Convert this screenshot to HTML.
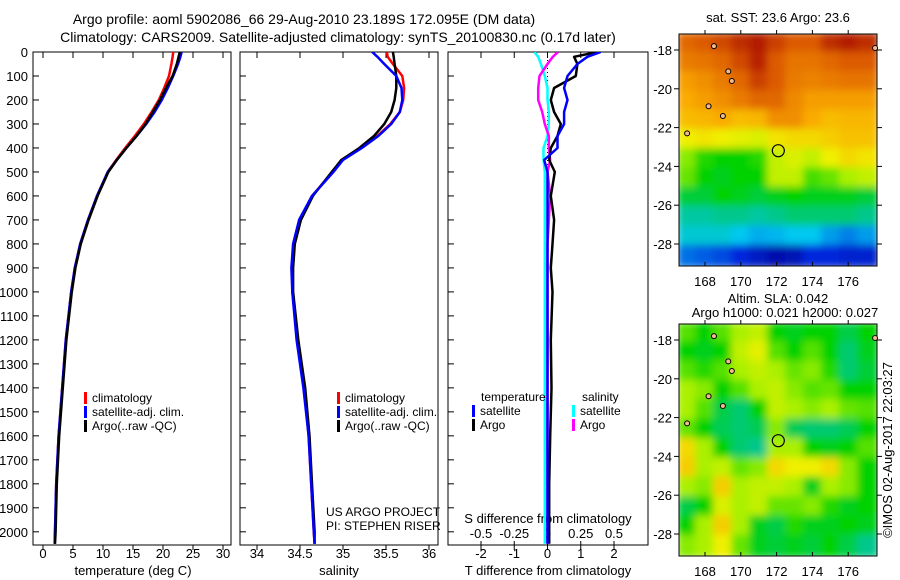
<!DOCTYPE html>
<html><head><meta charset="utf-8"><style>
body{margin:0;background:#fff;}
svg{display:block;font-family:"Liberation Sans",sans-serif;}
</style></head><body>
<svg id="c" width="900" height="580" xmlns="http://www.w3.org/2000/svg">
<defs>
<clipPath id="cp1"><rect x="33" y="52" width="198" height="493"/></clipPath>
<clipPath id="cp2"><rect x="240" y="52" width="198" height="493"/></clipPath>
<clipPath id="cp3"><rect x="448" y="52" width="200" height="493"/></clipPath>
<clipPath id="cm1"><rect x="679" y="34" width="198" height="232"/></clipPath>
<clipPath id="cm2"><rect x="679" y="324" width="198" height="232"/></clipPath>
<filter id="bl" x="-5%" y="-5%" width="110%" height="110%"><feGaussianBlur stdDeviation="4"/></filter>
</defs>
<text x="304" y="24" font-size="14" text-anchor="middle">Argo profile: aoml 5902086_66 29-Aug-2010 23.189S 172.095E (DM data)</text>
<text x="338" y="42" font-size="14" text-anchor="middle">Climatology: CARS2009. Satellite-adjusted climatology: synTS_20100830.nc (0.17d later)</text>
<g id="g"></g>
</svg>
<script>
// ---- data ----
const depths=[0,20,50,100,150,200,250,300,350,400,450,500,600,700,800,900,1000,1200,1400,1600,1800,2000,2050];
const tempClim=[21.7,21.6,21.4,21.0,20.2,19.3,18.1,16.8,15.3,13.7,12.2,10.8,9.0,7.5,6.2,5.3,4.7,3.8,3.2,2.6,2.2,2.0,1.95];
const tempSat=[23.1,22.9,22.5,21.7,20.8,19.8,18.6,17.2,15.6,13.9,12.3,10.8,9.0,7.5,6.2,5.3,4.7,3.8,3.2,2.6,2.2,2.0,1.95];
const tempArgo=[22.8,22.6,22.3,21.6,20.5,19.5,18.3,17.1,15.6,13.9,12.3,10.9,9.1,7.6,6.3,5.4,4.8,3.9,3.3,2.7,2.3,2.1,2.0];
const salClim=[35.51,35.52,35.58,35.69,35.71,35.70,35.66,35.55,35.40,35.21,34.98,34.88,34.64,34.50,34.43,34.41,34.41,34.47,34.55,34.60,34.63,34.66,34.67];
const salSat=[35.34,35.40,35.48,35.62,35.68,35.69,35.66,35.56,35.41,35.22,35.0,34.89,34.64,34.49,34.42,34.40,34.41,34.46,34.54,34.60,34.63,34.66,34.67];
const salArgo=[35.58,35.59,35.60,35.62,35.62,35.60,35.56,35.48,35.36,35.19,34.98,34.87,34.65,34.51,34.44,34.42,34.42,34.48,34.56,34.61,34.64,34.67,34.67];
const dTsat=[1.6,1.2,0.9,0.6,0.5,0.6,0.5,0.5,0.3,0.3,-0.1,0,0,0,0,0,0,0,0,0,0,0,0];
const dTargo=[1.5,0.8,0.9,0.85,0.2,0.1,0.2,0.4,0.3,0.1,0.05,0.22,0.1,0.2,0.15,0.1,0.15,0.1,0.12,0.08,0.05,0.05,0.05];
const dSsat=[-0.1,-0.07,-0.05,-0.02,0,0,0.01,0.01,0,-0.03,-0.03,-0.02,-0.02,-0.02,-0.02,-0.02,-0.02,-0.02,-0.02,-0.02,-0.02,-0.02,-0.02];
const dSargo=[0.08,0.04,0,-0.06,-0.07,-0.07,-0.04,-0.02,0.01,0.01,0.02,0,0.02,0.01,0,0,0,0,0,0,0,0,0];
const depthTicks=[0,100,200,300,400,500,600,700,800,900,1000,1100,1200,1300,1400,1500,1600,1700,1800,1900,2000];
const tempTicks=[0,5,10,15,20,25,30];
const salTicks=[34,34.5,35,35.5,36];
const tdTicks=[-2,-1,0,1,2];
const sdTicks=[-0.5,-0.25,0,0.25,0.5];
const lonTicks=[168,170,172,174,176];
const latTicks=[-18,-20,-22,-24,-26,-28];
const sstGrid=[
[.88,.9,.92,.95,.97,.93,.9,.9,.95,.97,.95],
[.85,.86,.88,.92,.96,.9,.86,.86,.88,.9,.9],
[.8,.82,.85,.88,.93,.9,.85,.84,.85,.86,.86],
[.78,.8,.82,.85,.88,.88,.83,.8,.8,.8,.8],
[.75,.76,.78,.75,.76,.82,.82,.78,.75,.76,.76],
[.66,.68,.66,.65,.64,.68,.7,.7,.72,.74,.74],
[.58,.52,.5,.5,.52,.62,.64,.62,.66,.7,.68],
[.56,.5,.48,.5,.5,.62,.62,.54,.56,.6,.62],
[.46,.46,.5,.48,.46,.48,.5,.48,.48,.48,.46],
[.38,.38,.4,.4,.38,.4,.42,.42,.42,.42,.4],
[.33,.33,.33,.3,.27,.28,.3,.3,.25,.22,.25],
[.2,.18,.16,.12,.08,.05,.06,.12,.12,.1,.1]];
const slaGrid=[
[.55,.5,.55,.6,.62,.5,.48,.5,.5,.45,.5],
[.5,.48,.5,.62,.65,.55,.5,.55,.5,.42,.48],
[.55,.52,.55,.6,.62,.6,.56,.58,.52,.42,.46],
[.6,.58,.5,.55,.6,.62,.58,.55,.56,.5,.5],
[.6,.55,.45,.42,.5,.62,.6,.58,.6,.56,.55],
[.56,.5,.44,.42,.44,.58,.44,.42,.42,.44,.5],
[.7,.6,.5,.42,.4,.6,.6,.5,.48,.5,.55],
[.72,.6,.62,.56,.58,.7,.66,.66,.7,.58,.5],
[.6,.58,.72,.6,.62,.62,.6,.48,.6,.58,.5],
[.45,.5,.64,.6,.62,.56,.56,.58,.52,.48,.5],
[.5,.6,.72,.6,.48,.45,.52,.48,.48,.5,.48],
[.58,.6,.66,.56,.48,.46,.48,.46,.5,.45,.4]];
// ---- drawing ----
const NS='http://www.w3.org/2000/svg';const G=document.getElementById('g');
function mk(t,a,p){const e=document.createElementNS(NS,t);for(const k in a)e.setAttribute(k,a[k]);(p||G).appendChild(e);return e;}
const yD=d=>52+d*0.2399;
const xT=t=>43+t*6;
const xS=s=>257+(s-34)*86;
const xTd=t=>547.5+t*33.25;
const xSd=s=>547.5+s*133;
function frame(x,w,name){const r=mk('rect',{x:x,y:52,width:w,height:493,fill:'none',stroke:'#000','stroke-width':1});}
frame(33,198,'temperature-panel');frame(240,198,'salinity-panel');frame(448,200,'difference-panel');
depthTicks.forEach(d=>{const y=yD(d);
 const t=mk('text',{x:28,y:y+5,'font-size':13,'text-anchor':'end'});t.textContent=d;
 
 mk('line',{x1:33,x2:39,y1:y,y2:y,stroke:'#000'});mk('line',{x1:240,x2:246,y1:y,y2:y,stroke:'#000'});mk('line',{x1:448,x2:454,y1:y,y2:y,stroke:'#000'});});
function xticks(ticks,fx,y0,labelY,fmt,name){ticks.forEach(v=>{const x=fx(v);
 mk('line',{x1:x,x2:x,y1:545,y2:550,stroke:'#000'});mk('line',{x1:x,x2:x,y1:52,y2:58,stroke:'#000'});
 const t=mk('text',{x:x,y:labelY,'font-size':13,'text-anchor':'middle'});t.textContent=fmt(v);
 });}
xticks(tempTicks,xT,0,558,v=>v,'temperature-tick-label');
xticks(salTicks,xS,0,558,v=>v,'salinity-tick-label');
xticks(tdTicks,xTd,0,558,v=>v,'t-diff-tick-label');
sdTicks.forEach(v=>{const x=xSd(v);mk('line',{x1:x,x2:x,y1:541,y2:545,stroke:'#000'});
 const t=mk('text',{x:x,y:538,'font-size':13,'text-anchor':'middle'});t.textContent=v;
 });
function lab(x,y,s,name,anchor,size){const t=mk('text',{x:x,y:y,'font-size':size||13,'text-anchor':anchor||'middle'});t.textContent=s;return t;}
lab(133,575,'temperature (deg C)','x-axis-title-temperature');
lab(339,575,'salinity','x-axis-title-salinity');
lab(548,575,'T difference from climatology','x-axis-title-t-diff');
lab(548,523,'S difference from climatology','s-diff-axis-title');
lab(326,516,'US ARGO PROJECT','project-label','start',12);
lab(326,530,'PI: STEPHEN RISER','pi-label','start',12);
mk('line',{x1:547.5,x2:547.5,y1:52,y2:545,stroke:'#000','stroke-dasharray':'1,3'});
function line(xs,fx,col,clip,name){const pts=depths.map((d,i)=>fx(xs[i]).toFixed(1)+','+yD(d).toFixed(1)).join(' ');
 const p=mk('polyline',{points:pts,fill:'none',stroke:col,'stroke-width':2.5,'clip-path':'url(#'+clip+')','stroke-linejoin':'round'});
 }
line(tempClim,xT,'#f00','cp1','temp-climatology-line');line(tempSat,xT,'#00f','cp1','temp-satellite-line');line(tempArgo,xT,'#000','cp1','temp-argo-line');
line(salClim,xS,'#f00','cp2','sal-climatology-line');line(salArgo,xS,'#000','cp2','sal-argo-line');line(salSat,xS,'#00f','cp2','sal-satellite-line');
line(dSsat,xSd,'#0ff','cp3','s-diff-satellite-line');line(dSargo,xSd,'#f0f','cp3','s-diff-argo-line');
line(dTargo,xTd,'#000','cp3','t-diff-argo-line');line(dTsat,xTd,'#00f','cp3','t-diff-satellite-line');
function legend(x,y,items,name){items.forEach((it,i)=>{const r=mk('rect',{x:x,y:y+i*14-10,width:3,height:12,fill:it[1]});
 
 lab(x+8,y+i*14,it[0],name+'-entry','start',12);});}
legend(84,402,[['climatology','#f00'],['satellite-adj. clim.','#00f'],['Argo(..raw -QC)','#000']],'temp-legend');
legend(337,402,[['climatology','#f00'],['satellite-adj. clim.','#00f'],['Argo(..raw -QC)','#000']],'sal-legend');
lab(481,401,'temperature','diff-legend-temp-header','start',12);
lab(582,401,'salinity','diff-legend-sal-header','start',12);
legend(472,415,[['satellite','#00f'],['Argo','#000']],'diff-legend-temp');
legend(572,415,[['satellite','#0ff'],['Argo','#f0f']],'diff-legend-sal');
// maps
function cmap(v){const stops=[[0,[0,0,140]],[.12,[0,40,220]],[.3,[0,200,240]],[.4,[0,200,140]],[.5,[0,210,0]],[.6,[170,240,0]],[.66,[240,240,0]],[.78,[250,170,0]],[.9,[220,90,0]],[1,[160,0,0]]];
 for(let i=1;i<stops.length;i++){if(v<=stops[i][0]){const a=stops[i-1],b=stops[i],f=(v-a[0])/(b[0]-a[0]);return 'rgb('+a[1].map((c,k)=>Math.round(c+(b[1][k]-c)*f)).join(',')+')';}}return 'rgb(160,0,0)';}
function map(grid,y0,y18,clip,name,blur){const g=mk('g',{'clip-path':'url(#'+clip+')'});
 const inner=mk('g',blur?{filter:'url(#bl)'}:{},g);
 const cw=198/11,ch=232/12;
 grid.forEach((row,r)=>row.forEach((v,c)=>{mk('rect',{x:679+c*cw-2,y:y0+r*ch-2,width:cw+4,height:ch+4,fill:cmap(v)},inner);}));
 const f=mk('rect',{x:679,y:y0,width:198,height:232,fill:'none',stroke:'#000'});
 const xL=l=>705+(l-168)*17.9, yL=la=>y18+(-18-la)*19.4;
 lonTicks.forEach(l=>{mk('line',{x1:xL(l),x2:xL(l),y1:y0+232,y2:y0+228,stroke:'#000'});mk('line',{x1:xL(l),x2:xL(l),y1:y0,y2:y0-4,stroke:'#000'});
  lab(xL(l),y0+252,l,name+'-lon-label');});
 latTicks.forEach(la=>{mk('line',{x1:679,x2:674,y1:yL(la),y2:yL(la),stroke:'#000'});mk('line',{x1:877,x2:882,y1:yL(la),y2:yL(la),stroke:'#000'});
  lab(672,yL(la)+5,la,name+'-lat-label','end');});
 const m=mk('circle',{cx:xL(172.095),cy:yL(-23.189),r:6,fill:'none',stroke:'#000','stroke-width':1.2});
 [[168.5,-17.8],[169.3,-19.1],[169.5,-19.6],[169.0,-21.4],[168.2,-20.9],[167.0,-22.3],[177.5,-17.9]].forEach(p=>{mk('ellipse',{cx:xL(p[0]),cy:yL(p[1]),rx:2.5,ry:2.5,fill:'#f5b98c',stroke:'#000','stroke-width':1});});}
map(sstGrid,34,50,'cm1','sst-map',true);
map(slaGrid,324,340,'cm2','sla-map',true);
lab(778,22,'sat. SST: 23.6 Argo: 23.6','sst-map-title');
lab(778,303,'Altim. SLA: 0.042','sla-map-title-1');
lab(785,317,'Argo h1000: 0.021 h2000: 0.027','sla-map-title-2');
const v=lab(892,450,'©IMOS 02-Aug-2017 22:03:27','timestamp-label','middle',13);v.setAttribute('transform','rotate(-90 892 450)');
</script>
</body></html>
